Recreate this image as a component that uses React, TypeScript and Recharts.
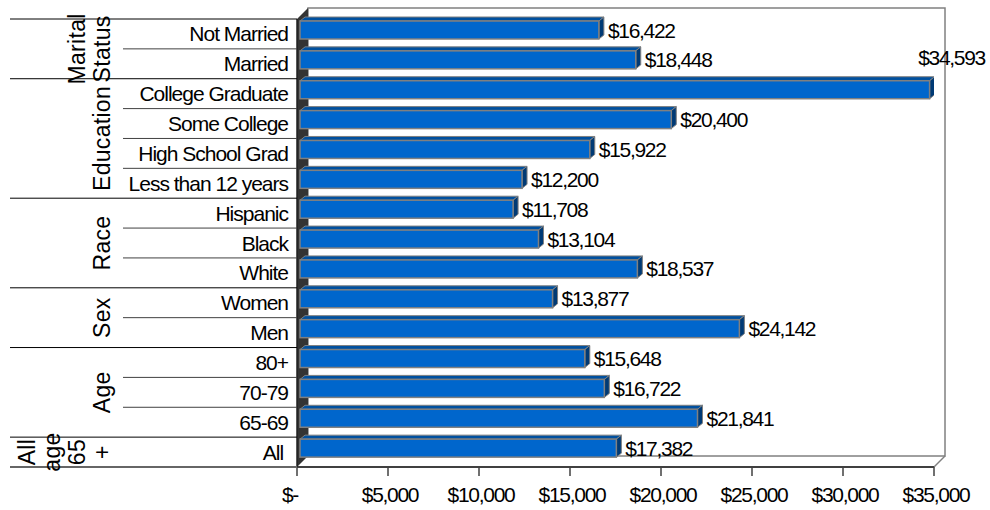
import React from "react";
import { BarChart, Bar, XAxis, YAxis, LabelList } from "recharts";

const categories = [
  "Not Married",
  "Married",
  "College Graduate",
  "Some College",
  "High School Grad",
  "Less than 12 years",
  "Hispanic",
  "Black",
  "White",
  "Women",
  "Men",
  "80+",
  "70-79",
  "65-69",
  "All ",
];
const incomes = [16422, 18448, 34593, 20400, 15922, 12200, 11708, 13104, 18537, 13877, 24142, 15648, 16722, 21841, 17382];
const groupLabels = [["Marital", "Status"], ["Education"], ["Race"], ["Sex"], ["Age"], ["All", "age", "65", "+"]];
const groupSizes = [2, 4, 3, 2, 3, 1];
const xTicks = [0, 5000, 10000, 15000, 20000, 25000, 30000, 35000];

const data = categories.map((name, i) => ({ name, value: incomes[i] }));

const W = 990;
const H = 510;
const M = { top: 19, right: 56, bottom: 0, left: 0 };
const YW = 297;
const XH = 43;
const PL = M.left + YW;
const PT = M.top;
const PR = W - M.right;
const PB = H - M.bottom - XH;
const BAND = (PB - PT) / categories.length;
const WALL = 11;
const FONT = "'Liberation Sans', Arial, sans-serif";

function CategoryTick(props: any) {
  const { x, y, payload } = props;
  const i = payload.index;
  const axisX = x + 9;
  let start = 0;
  let g = 0;
  for (g = 0; g < groupSizes.length; g++) {
    if (i < start + groupSizes[g]) break;
    start += groupSizes[g];
  }
  const size = groupSizes[g];
  const isFirst = i === start;
  const isLast = i === start + size - 1;
  const lastRow = i === categories.length - 1;
  const lines = groupLabels[g];
  const cy = y + ((size - 1) * BAND) / 2;
  const yBottom = y + BAND / 2;
  return (
    <g>
      {i === 0 && <line x1={10} y1={y - BAND / 2} x2={axisX} y2={y - BAND / 2} stroke="#000" strokeWidth={1} />}
      <line
        x1={isLast ? 10 : 123}
        y1={yBottom}
        x2={axisX}
        y2={yBottom}
        stroke={lastRow ? "#666" : isLast ? "#000" : "#404040"}
        strokeWidth={lastRow ? 2 : 1}
      />
      <text
        x={x}
        y={y}
        textAnchor="end"
        dominantBaseline="central"
        fontFamily={FONT}
        fontSize={21}
        letterSpacing={-1}
        fill="#000"
        style={{ whiteSpace: "pre" }}
      >
        {payload.value}
      </text>
      {isFirst &&
        lines.map((ln, j) => {
          const cx = 102 - (lines.length - 1 - j) * 25;
          return (
            <text
              key={j}
              x={cx}
              y={cy}
              transform={`rotate(-90 ${cx} ${cy})`}
              textAnchor="middle"
              dominantBaseline="central"
              fontFamily={FONT}
              fontSize={23}
              letterSpacing={0.3}
              fill="#000"
            >
              {ln}
            </text>
          );
        })}
    </g>
  );
}

function XTick(props: any) {
  const { x, y, payload } = props;
  const v = payload.value;
  const text = v === 0 ? "$-" : "$" + Number(v).toLocaleString("en-US");
  return (
    <text
      x={v === 0 ? x + 1 : x + 2}
      y={y + 16}
      textAnchor={v === 0 ? "end" : "middle"}
      dominantBaseline="central"
      fontFamily={FONT}
      fontSize={21}
      letterSpacing={-1.3}
      fill="#000"
    >
      {text}
    </text>
  );
}

function Bar3D(props: any) {
  const { x, y, width, height } = props;
  if (!width || width <= 0) return null;
  const fx = x + 3;
  const fy = y - 4;
  const w = width;
  const h = height;
  const dx = 5;
  const dy = 4;
  return (
    <g>
      <polygon
        points={`${fx},${fy} ${fx + dx},${fy - dy} ${fx + w + dx},${fy - dy} ${fx + w},${fy}`}
        fill="#00509F"
        stroke="#808080"
        strokeWidth={1}
      />
      <polygon
        points={`${fx + w},${fy} ${fx + w + dx},${fy - dy} ${fx + w + dx},${fy + h - dy} ${fx + w},${fy + h}`}
        fill="#003A75"
        stroke="#808080"
        strokeWidth={1}
      />
      <rect x={fx} y={fy} width={w} height={h} fill="#0066CC" stroke="#808080" strokeWidth={1.5} />
    </g>
  );
}

function ValueLabel(props: any) {
  const { x, y, width, height, value } = props;
  const text = "$" + Number(value).toLocaleString("en-US");
  let lx = Number(x) + Number(width) + 3 + 5 + 4;
  let ly = Number(y) - 4 + Number(height) / 2;
  let anchor = "start";
  const est = text.length * 9.5;
  if (lx + est > W) {
    lx = W - 5;
    ly -= 32;
    anchor = "end";
  }
  return (
    <text
      x={lx}
      y={ly}
      textAnchor={anchor}
      dominantBaseline="central"
      fontFamily={FONT}
      fontSize={21}
      letterSpacing={-1.3}
      fill="#000"
    >
      {text}
    </text>
  );
}

export default function App() {
  return (
    <div style={{ position: "absolute", left: 0, top: 0, width: W, height: H, background: "#fff" }}>
      <svg width={W} height={H} style={{ position: "absolute", left: 0, top: 0 }}>
        <rect
          x={PL + WALL}
          y={PT - WALL}
          width={PR - PL}
          height={PB - PT}
          fill="#fff"
          stroke="#808080"
          strokeWidth={1.5}
        />
        <polygon
          points={`${PL},${PT} ${PL + WALL},${PT - WALL} ${PL + WALL},${PB - WALL} ${PL},${PB}`}
          fill="#333"
        />
        <line x1={PR + WALL} y1={PB - WALL} x2={PR} y2={PB} stroke="#808080" strokeWidth={1.5} />
      </svg>
      <div style={{ position: "absolute", left: 0, top: 0 }}>
        <BarChart width={W} height={H} data={data} layout="vertical" margin={M}>
          <XAxis
            type="number"
            domain={[0, 35000]}
            ticks={xTicks}
            interval={0}
            height={XH}
            tickSize={9}
            tickMargin={2}
            axisLine={{ stroke: "#404040", strokeWidth: 2 }}
            tickLine={{ stroke: "#404040", strokeWidth: 1.5 }}
            tick={<XTick />}
            allowDataOverflow
          />
          <YAxis
            type="category"
            dataKey="name"
            width={YW}
            interval={0}
            tickSize={0}
            tickMargin={9}
            tickLine={false}
            axisLine={{ stroke: "#202020", strokeWidth: 1.5 }}
            tick={<CategoryTick />}
          />
          <Bar dataKey="value" barSize={18} isAnimationActive={false} shape={(p: any) => <Bar3D {...p} />}>
            <LabelList dataKey="value" content={(p: any) => <ValueLabel {...p} />} />
          </Bar>
        </BarChart>
      </div>
    </div>
  );
}
